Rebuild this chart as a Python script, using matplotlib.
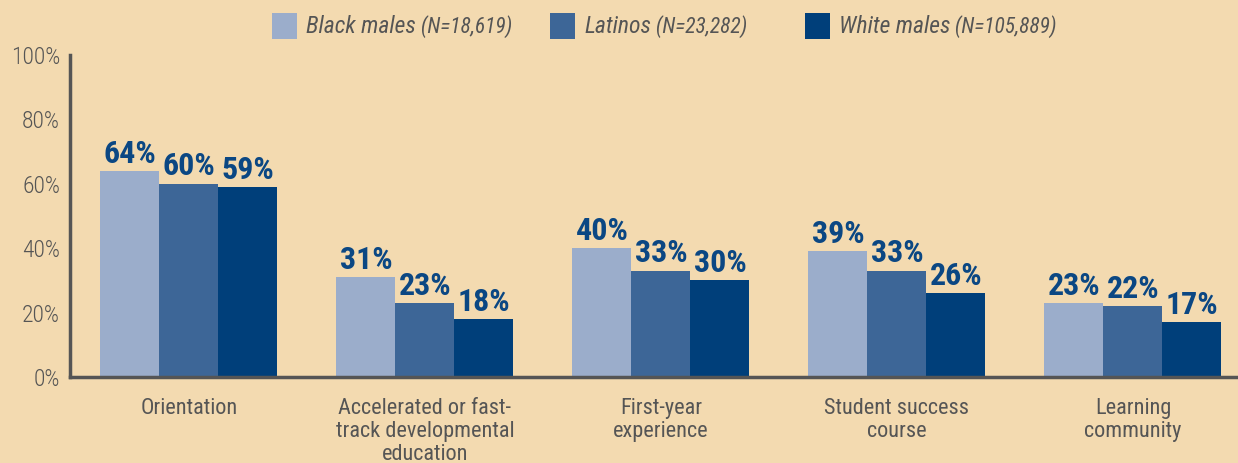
import numpy as np
import matplotlib.pyplot as plt
from matplotlib.patches import Rectangle

# data
categories = ['Orientation', 'Accelerated or fast-\ntrack developmental\neducation',
              'First-year\nexperience', 'Student success\ncourse', 'Learning\ncommunity']
black_males = [64, 31, 40, 39, 23]
latinos = [60, 23, 33, 33, 22]
white_males = [59, 18, 30, 26, 17]
series_names = ['Black males', 'Latinos', 'White males']
series_n = ['(N=18,619)', '(N=23,282)', '(N=105,889)']
y_ticks = [0, 20, 40, 60, 80, 100]

bg = '#f3dab0'
colors = ['#9badcb', '#3d6697', '#003f7a']
grey = '#555555'
plt.rcParams['font.family'] = ['Roboto Condensed', 'DejaVu Sans']

fig = plt.figure(figsize=(12.38, 4.63), dpi=100, facecolor=bg)
ax = fig.add_axes([0.0565, 0.186, 0.9435, 0.695], facecolor=bg)

x = np.arange(len(categories))
w = 0.25
series = [black_males, latinos, white_males]
for i, vals in enumerate(series):
    pos = x + (i - 1) * w
    bars = ax.bar(pos, vals, width=w, color=colors[i], linewidth=0)
    for b, v in zip(bars, vals):
        ax.annotate(f'{v}%', xy=(b.get_x() + b.get_width() / 2, v), xytext=(0, 6),
                    textcoords='offset points', ha='center', va='baseline',
                    fontsize=23, fontweight='bold', color='#0b4783')

ax.set_xlim(-0.504, 4.445)
ax.set_ylim(0, 100)
ax.set_yticks(y_ticks)
ax.set_yticklabels([f'{t}%' for t in y_ticks], fontsize=17, color=grey, fontweight='light')
ax.set_xticks(x)
ax.set_xticklabels(categories, fontsize=16, color=grey, linespacing=1.12)
ax.tick_params(axis='both', length=0)
ax.tick_params(axis='y', pad=7)
ax.tick_params(axis='x', pad=15)
for s in ['top', 'right']:
    ax.spines[s].set_visible(False)
for s in ['left', 'bottom']:
    ax.spines[s].set_color(grey)
    ax.spines[s].set_linewidth(2.5)

# legend across the top
leg_x = [272, 550, 805]
for i in range(3):
    x0 = leg_x[i] / 1238
    fig.patches.append(Rectangle((x0, 1 - 39 / 463), 25 / 1238, 26 / 463,
                                 transform=fig.transFigure, facecolor=colors[i],
                                 edgecolor='none'))
    t = fig.text((leg_x[i] + 34) / 1238, 1 - 33 / 463, series_names[i], fontsize=17,
                 style='italic', color=grey, va='baseline', ha='left')
    ax.annotate(' ' + series_n[i], xy=(1, 0), xycoords=t, va='bottom', ha='left',
                fontsize=15.5, style='italic', color=grey, annotation_clip=False)

fig.savefig('out.png', dpi=100, facecolor=bg)
